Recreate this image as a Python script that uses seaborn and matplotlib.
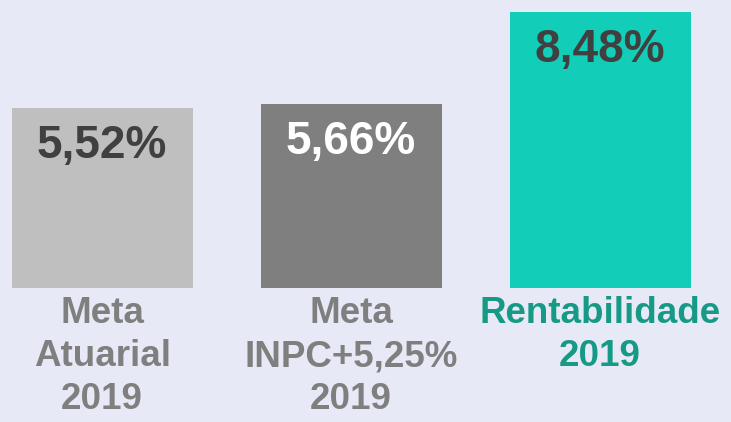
import matplotlib
matplotlib.use("Agg")
import matplotlib.pyplot as plt
import seaborn as sns
import pandas as pd

categories = ["Meta\nAtuarial\n2019", "Meta\nINPC+5,25%\n2019", "Rentabilidade\n2019"]
values = [5.52, 5.66, 8.48]
value_labels = ["5,52%", "5,66%", "8,48%"]

bar_colors = ["#BFBFBF", "#7F7F7F", "#12CDB8"]
value_text_colors = ["#404040", "#FFFFFF", "#404040"]
cat_text_colors = ["#7F7F7F", "#7F7F7F", "#169A86"]
bg = "#E7EAF6"

sns.set_theme(style="white")
plt.rcParams['font.family'] = ['Liberation Sans', 'DejaVu Sans']

df = pd.DataFrame({"cat": categories, "val": values})

fig = plt.figure(figsize=(7.31, 4.22), dpi=100)
fig.patch.set_facecolor(bg)
ax = fig.add_axes([0, 134 / 422, 1, 288 / 422])
ax.set_facecolor("none")

sns.barplot(data=df, x="cat", y="val", hue="cat", palette=bar_colors,
            width=0.727, legend=False, ax=ax, saturation=1, linewidth=0)

ax.set_xlim(-0.41, 2.526)
ax.set_ylim(0, 8.85)
ax.set_axis_off()

for i, (v, lab) in enumerate(zip(values, value_labels)):
    ax.annotate(lab, (i, v), xytext=(0, -38), textcoords="offset pixels",
                ha="center", va="center", fontsize=33, fontweight="bold",
                color=value_text_colors[i])
    ax.text(i, -8 / 288, categories[i], transform=ax.get_xaxis_transform(),
            ha="center", va="top", fontsize=26.5, fontweight="bold",
            color=cat_text_colors[i], linespacing=1.3)

fig.savefig("out.png", dpi=100, facecolor=bg)
